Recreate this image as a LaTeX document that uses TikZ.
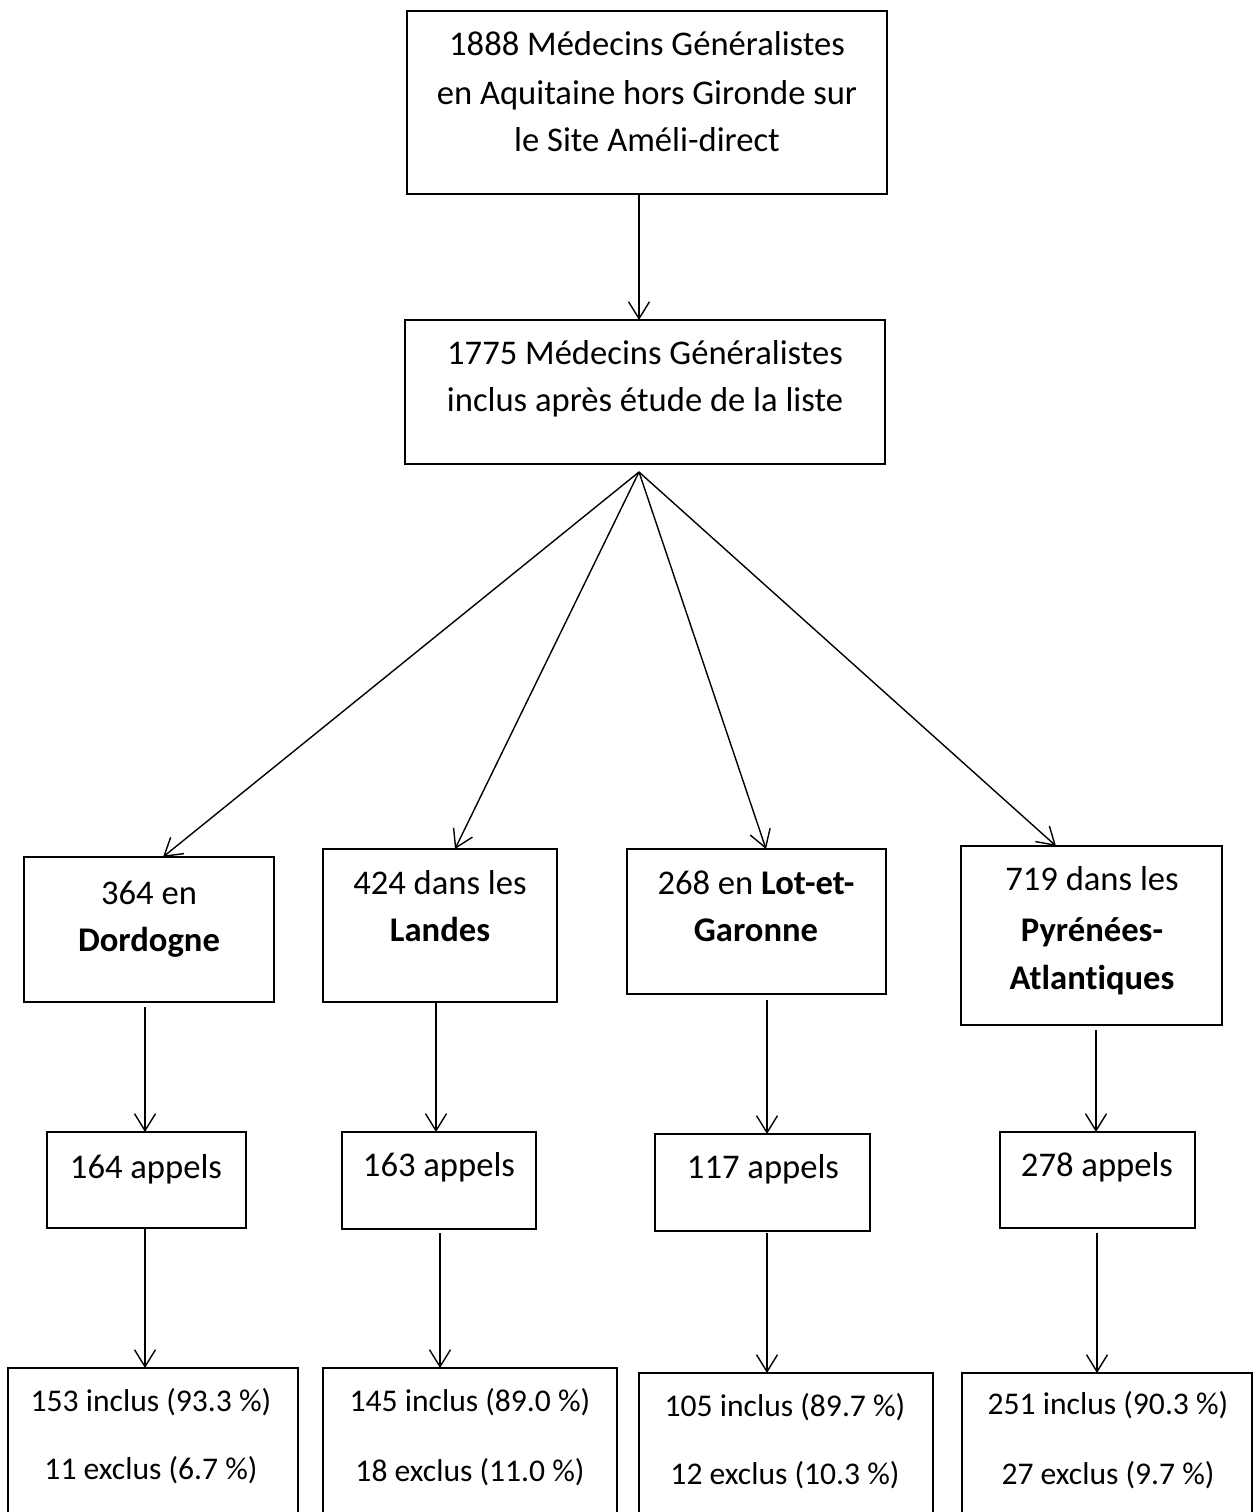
\documentclass[tikz,border=0pt]{standalone}
\usepackage{fontspec}
\setmainfont{Carlito}[Ligatures=NoCommon]
\usetikzlibrary{arrows.meta}
\begin{document}
\begin{tikzpicture}[x=1pt,y=-1pt,
  box/.style={draw, line width=1.8pt, inner sep=0pt, outer sep=0pt},
  txt/.style={anchor=base, inner sep=0pt, font=\fontsize{34.6}{48}\selectfont},
  txtb/.style={anchor=base, inner sep=0pt, font=\fontsize{31.6}{48}\selectfont},
  arr/.style={line width=1.4pt, -{Straight Barb[length=17pt,width=21pt,line width=1.4pt]}}]
\useasboundingbox (0,0) rectangle (1254,1512);
\clip (0,0) rectangle (1254,1512);
\fill[white] (0,0) rectangle (1254,1512);
% boxes
\node[box, minimum width=480pt, minimum height=183pt] (top) at (647,102.5) {};
\node[box, minimum width=480pt, minimum height=144pt] (mid) at (645,392) {};
\node[box, minimum width=250pt, minimum height=145pt] (dor) at (149,929.5) {};
\node[box, minimum width=234pt, minimum height=153pt] (lan) at (440,925.5) {};
\node[box, minimum width=259pt, minimum height=145pt] (lot) at (756.5,921.5) {};
\node[box, minimum width=261pt, minimum height=179pt] (pyr) at (1091.5,935.5) {};
\node[box, minimum width=199pt, minimum height=96pt] (dorA) at (146.5,1180) {};
\node[box, minimum width=194pt, minimum height=97pt] (lanA) at (439,1180.5) {};
\node[box, minimum width=215pt, minimum height=97pt] (lotA) at (762.5,1182.5) {};
\node[box, minimum width=195pt, minimum height=96pt] (pyrA) at (1097.5,1180) {};
\node[box, minimum width=290pt, minimum height=162pt] (dorB) at (153,1449) {};
\node[box, minimum width=294pt, minimum height=162pt] (lanB) at (470,1449) {};
\node[box, minimum width=294pt, minimum height=157pt] (lotB) at (786,1451.5) {};
\node[box, minimum width=290pt, minimum height=157pt] (pyrB) at (1107,1451.5) {};
% texts
\node[txt] (top1) at (647,56) {1888 Médecins Généralistes};
\node[txt] (top2) at (647,104) {en Aquitaine hors Gironde sur};
\node[txt] (top3) at (647,151) {le Site Améli-direct};
\node[txt] (mid1) at (645,364) {1775 Médecins Généralistes};
\node[txt] (mid2) at (645,411) {inclus après étude de la liste};
\node[txt] (dor1) at (149,904) {364 en};
\node[txt] (dor2) at (149,951) {\textbf{Dordogne}};
\node[txt] (lan1) at (440,894) {424 dans les};
\node[txt] (lan2) at (440,941) {\textbf{Landes}};
\node[txt] (lot1) at (756,894) {268 en \textbf{Lot-et-}};
\node[txt] (lot2) at (756,941) {\textbf{Garonne}};
\node[txt] (pyr1) at (1092,890) {719 dans les};
\node[txt] (pyr2) at (1092,941) {\textbf{Pyrénées-}};
\node[txt] (pyr3) at (1092,989) {\textbf{Atlantiques}};
\node[txt] (dorAt) at (146,1178) {164 appels};
\node[txt] (lanAt) at (439,1176) {163 appels};
\node[txt] (lotAt) at (763,1178) {117 appels};
\node[txt] (pyrAt) at (1097,1176) {278 appels};
\node[txtb] (dorB1) at (151,1411) {153 inclus (93.3 \%)};
\node[txtb] (dorB2) at (151,1479) {11 exclus (6.7 \%)};
\node[txtb] (lanB1) at (470,1411) {145 inclus (89.0 \%)};
\node[txtb] (lanB2) at (470,1481) {18 exclus (11.0 \%)};
\node[txtb] (lotB1) at (785,1416) {105 inclus (89.7 \%)};
\node[txtb] (lotB2) at (785,1484) {12 exclus (10.3 \%)};
\node[txtb] (pyrB1) at (1108,1414) {251 inclus (90.3 \%)};
\node[txtb] (pyrB2) at (1108,1484) {27 exclus (9.7 \%)};
% helper coordinates
\coordinate (apex) at (639,472);
\coordinate (tD) at (163,0);
\coordinate (tL) at (455,0);
\coordinate (tT) at (766,0);
\coordinate (tP) at (1056,0);
\coordinate (xD) at (145,0);
\coordinate (xL) at (436,0);
\coordinate (xL2) at (440,0);
\coordinate (xT) at (767,0);
\coordinate (xP) at (1096,0);
\coordinate (xP2) at (1097,0);
% connectors
\draw[arr] (top.south -| apex) -- (mid.north -| apex);
\draw[arr] (apex) -- (dor.north -| tD);
\draw[arr] (apex) -- (lan.north -| tL);
\draw[arr] (apex) -- (lot.north -| tT);
\draw[arr] (apex) -- (pyr.north -| tP);
\draw[arr, shorten <=5pt] (dor.south -| xD) -- (dorA.north -| xD);
\draw[arr] (lan.south -| xL) -- (lanA.north -| xL);
\draw[arr, shorten <=6pt] (lot.south -| xT) -- (lotA.north -| xT);
\draw[arr, shorten <=5pt] (pyr.south -| xP) -- (pyrA.north -| xP);
\draw[arr] (dorA.south -| xD) -- (dorB.north -| xD);
\draw[arr, shorten <=4pt] (lanA.south -| xL2) -- (lanB.north -| xL2);
\draw[arr, shorten <=2pt] (lotA.south -| xT) -- (lotB.north -| xT);
\draw[arr, shorten <=5pt] (pyrA.south -| xP2) -- (pyrB.north -| xP2);
\end{tikzpicture}
\end{document}
